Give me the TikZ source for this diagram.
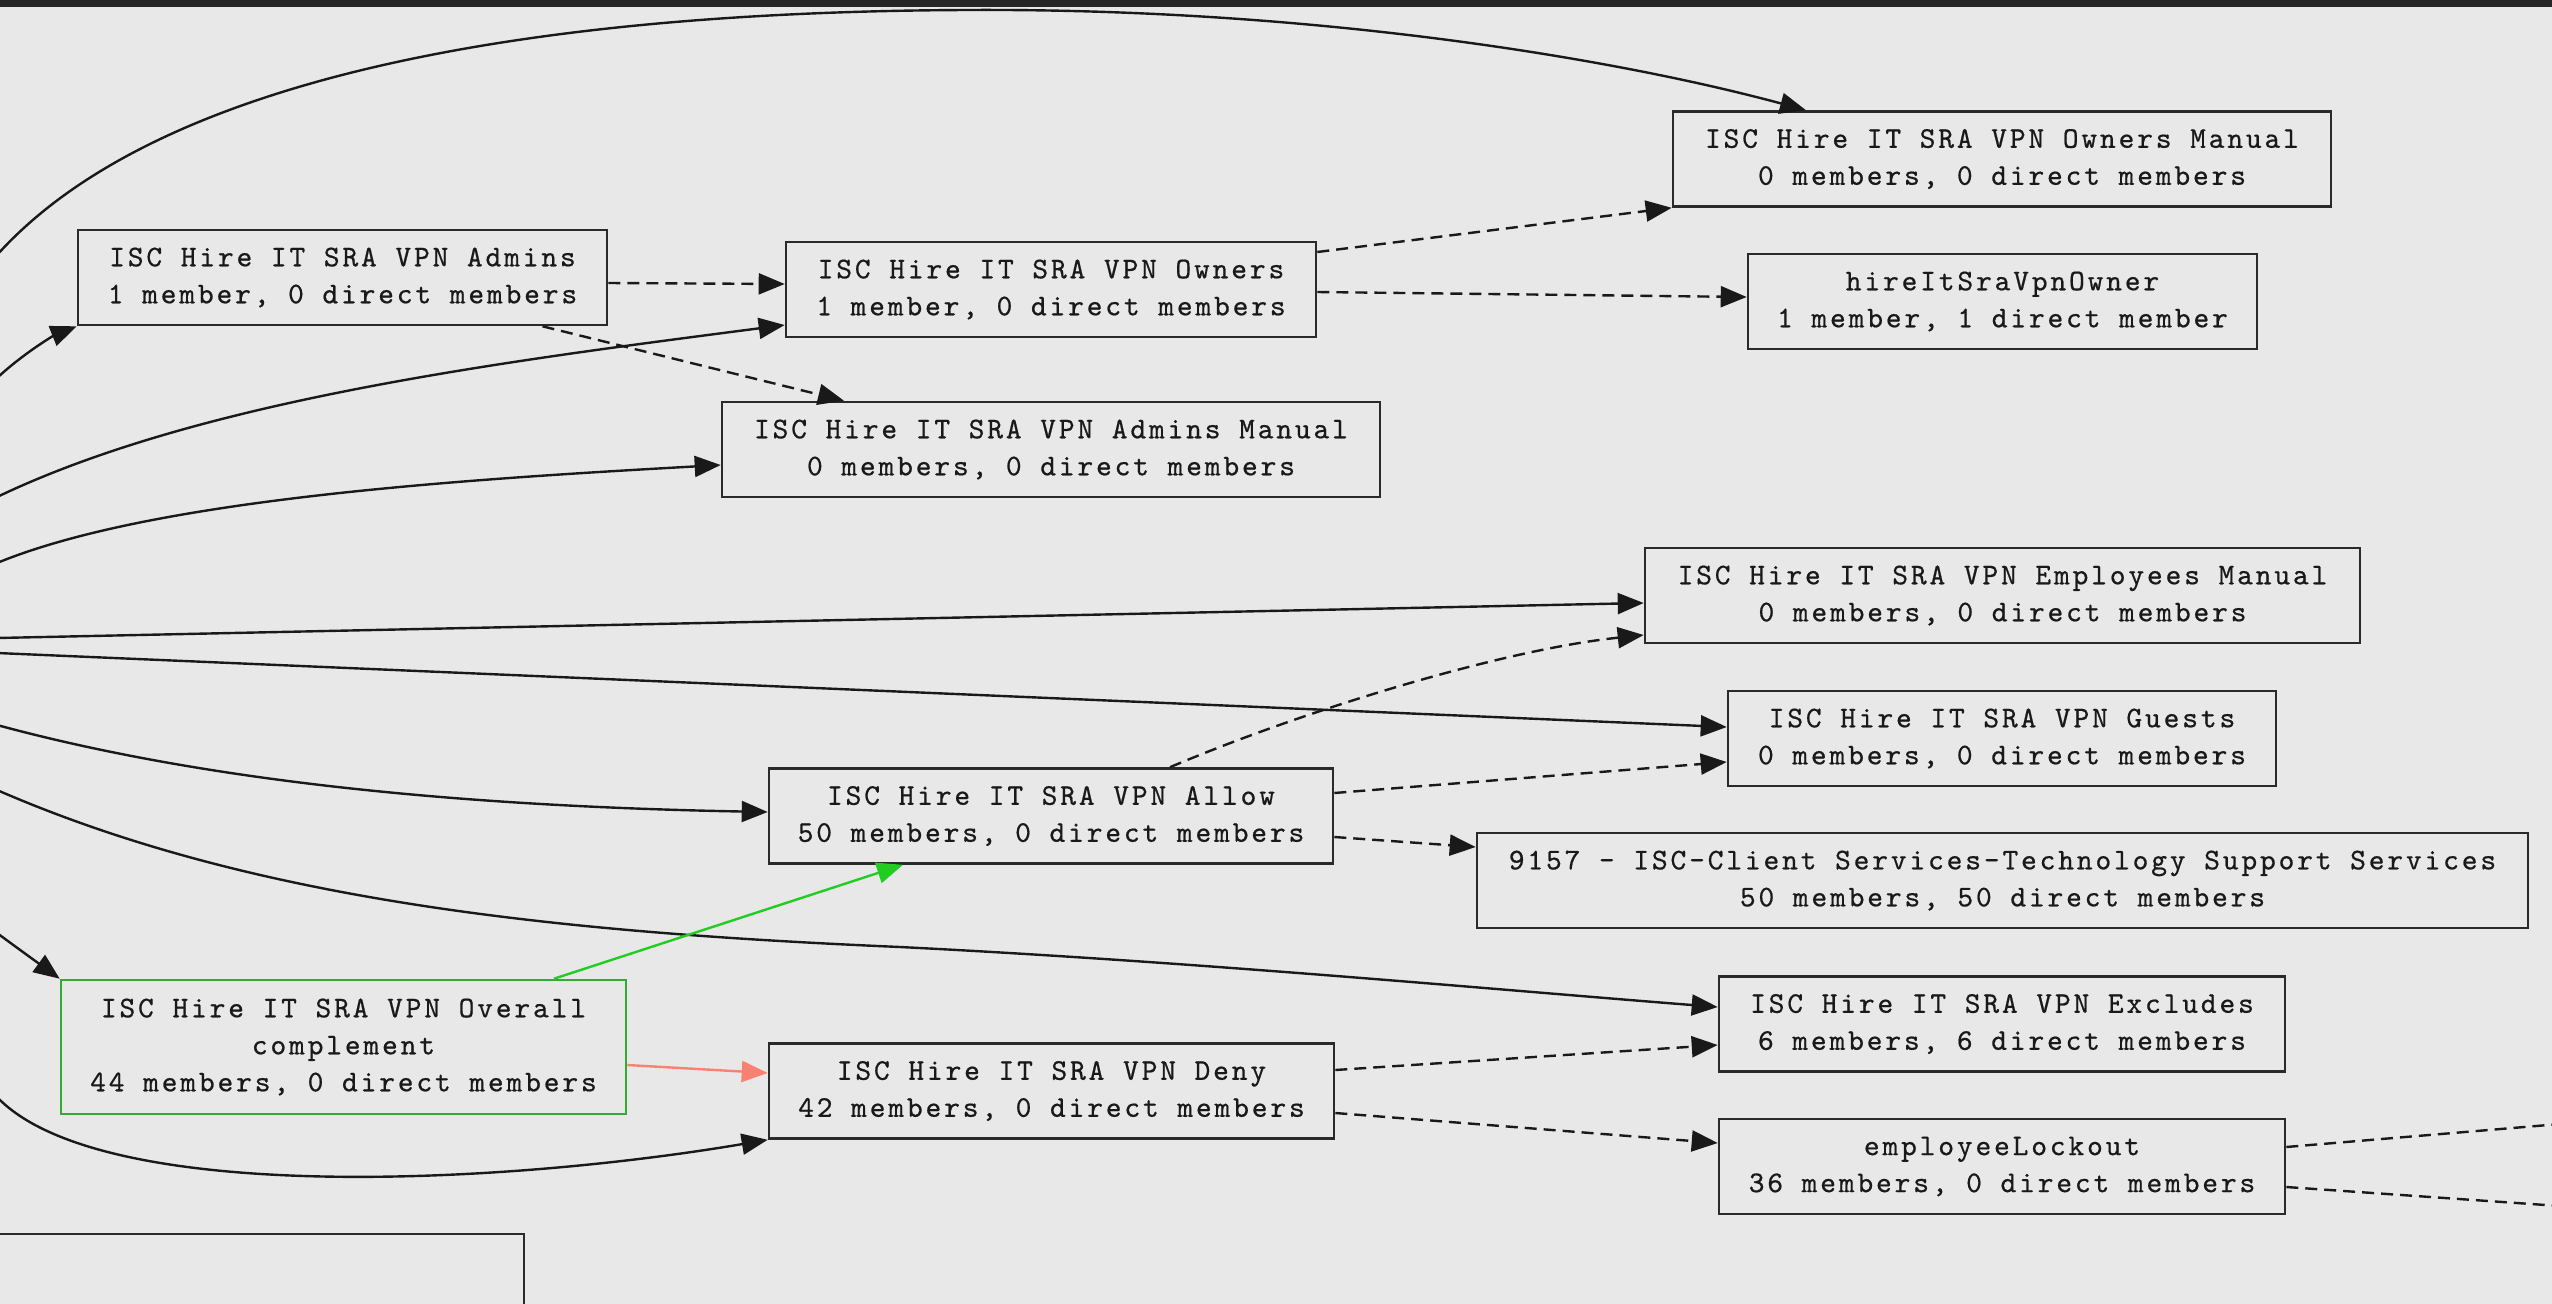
\documentclass[tikz,border=0pt]{standalone}
\usepackage{fontspec}
\newfontfamily\gvmono{lmmono10-regular.otf}[LetterSpace=9.5,FakeBold=0.6]
\usetikzlibrary{arrows.meta}
\definecolor{bgc}{HTML}{E8E8E8}
\definecolor{bandc}{HTML}{262626}
\definecolor{boxc}{HTML}{2A2A2A}
\definecolor{greenbox}{HTML}{33AA33}
\definecolor{greenedge}{HTML}{22CC22}
\definecolor{salmonedge}{HTML}{FA8072}
\tikzset{
  gbox/.style={rectangle, draw=boxc, line width=2.6pt, align=center, inner sep=0pt,
    minimum height=95pt, font=\gvmono\fontsize{30}{37}\selectfont, text=black!90},
  edgeline/.style={line width=2.4pt, draw=black!90, -{Triangle[length=26pt,width=21pt]}},
  dashedge/.style={edgeline, dash pattern=on 12pt off 7pt},
  plaindash/.style={line width=2.4pt, draw=black!90, dash pattern=on 12pt off 7pt},
}
\begin{document}
\begin{tikzpicture}[x=1pt,y=-1pt]
\fill[bgc] (0,0) rectangle (2552,1304);
\useasboundingbox (0,0) rectangle (2552,1304);
\fill[bandc] (0,0) rectangle (2552,7);

% nodes
\node[gbox, minimum width=658pt] (OM) at (2002,159) {ISC Hire IT SRA VPN Owners Manual\\0 members, 0 direct members};
\node[gbox, minimum width=509pt] (HO) at (2002.5,301.5) {hireItSraVpnOwner\\1 member, 1 direct member};
\node[gbox, minimum width=529pt] (AD) at (342.5,277.5) {ISC Hire IT SRA VPN Admins\\1 member, 0 direct members};
\node[gbox, minimum width=530pt] (OW) at (1051,289.5) {ISC Hire IT SRA VPN Owners\\1 member, 0 direct members};
\node[gbox, minimum width=658pt] (AM) at (1051,449.5) {ISC Hire IT SRA VPN Admins Manual\\0 members, 0 direct members};
\node[gbox, minimum width=715pt] (EM) at (2002.5,595.5) {ISC Hire IT SRA VPN Employees Manual\\0 members, 0 direct members};
\node[gbox, minimum width=548pt] (GU) at (2002,738.5) {ISC Hire IT SRA VPN Guests\\0 members, 0 direct members};
\node[gbox, minimum width=564pt] (AL) at (1051,816) {ISC Hire IT SRA VPN Allow\\50 members, 0 direct members};
\node[gbox, minimum width=1051pt] (CS) at (2002.5,880.5) {9157 - ISC-Client Services-Technology Support Services\\50 members, 50 direct members};
\node[gbox, draw=greenbox, minimum width=565pt, minimum height=134pt] (OC) at (343.5,1047) {ISC Hire IT SRA VPN Overall\\complement\\44 members, 0 direct members};
\node[gbox, minimum width=566pt] (EX) at (2002,1024) {ISC Hire IT SRA VPN Excludes\\6 members, 6 direct members};
\node[gbox, minimum width=565pt] (DE) at (1051.5,1091) {ISC Hire IT SRA VPN Deny\\42 members, 0 direct members};
\node[gbox, minimum width=566pt] (LO) at (2002,1166.5) {employeeLockout\\36 members, 0 direct members};
\node[rectangle, draw=boxc, line width=2.6pt, inner sep=0pt, minimum width=544pt, minimum height=100pt] (BL) at (252,1284) {};

% free ends
\coordinate (in1) at (-3,255);
\coordinate (in2) at (-3,378);
\coordinate (in3) at (-3,497);
\coordinate (in4) at (-3,563);
\coordinate (in5) at (-3,638);
\coordinate (in6) at (-3,653);
\coordinate (in7) at (-3,725);
\coordinate (in8) at (-3,790);
\coordinate (in9) at (-3,933);
\coordinate (in10) at (-3,1097);
\coordinate (out1) at (2560,1124);
\coordinate (out2) at (2560,1206);

% solid edges from the left
\draw[edgeline] (in1) .. controls (150,85) and (500,12) .. (966,10) .. controls (1320,8) and (1620,60) .. ([xshift=-196pt]OM.north);
\draw[edgeline] (in2) .. controls (25,352) and (55,335) .. (AD.south west);
\draw[edgeline] (in3) .. controls (200,400) and (500,362) .. ([yshift=-35.5pt]OW.west);
\draw[edgeline] (in4) .. controls (150,500) and (450,480) .. ([yshift=-15.5pt]AM.west);
\draw[edgeline] (in5) -- ([yshift=-7.5pt]EM.west);
\draw[edgeline] (in6) -- ([yshift=11.5pt]GU.west);
\draw[edgeline] (in7) .. controls (200,780) and (450,806) .. ([yshift=4pt]AL.west);
\draw[edgeline] (in8) .. controls (250,900) and (550,932) .. (900,947) .. controls (1200,962) and (1500,990) .. ([yshift=17pt]EX.west);
\draw[edgeline] (in9) .. controls (20,950) and (45,968) .. (OC.north west);
\draw[edgeline] (in10) .. controls (100,1205) and (500,1185) .. (DE.south west);

% dashed edges
\draw[dashedge] ([yshift=-5.5pt]AD.east) -- ([yshift=5.5pt]OW.west);
\draw[dashedge] ([xshift=200pt]AD.south) -- ([xshift=-207pt]AM.north);
\draw[dashedge] ([yshift=37.5pt]OW.east) -- (OM.south west);
\draw[dashedge] ([yshift=-2.5pt]OW.east) -- ([yshift=4.5pt]HO.west);
\draw[dashedge] ([xshift=119pt]AL.north) .. controls (1300,712) and (1500,650) .. ([yshift=-39.5pt]EM.west);
\draw[dashedge] ([yshift=23pt]AL.east) -- ([yshift=-23.5pt]GU.west);
\draw[dashedge] ([yshift=-21pt]AL.east) -- ([yshift=33.5pt]CS.west);
\draw[dashedge] ([yshift=21pt]DE.east) -- ([yshift=-21pt]EX.west);
\draw[dashedge] ([yshift=-22pt]DE.east) -- ([yshift=23.5pt]LO.west);
\draw[plaindash] ([yshift=19.5pt]LO.east) -- (out1);
\draw[plaindash] ([yshift=-20.5pt]LO.east) -- (out2);

% coloured edges
\draw[edgeline, draw=greenedge, fill=greenedge] ([xshift=210.5pt]OC.north) -- ([xshift=-148pt]AL.south);
\draw[edgeline, draw=salmonedge, fill=salmonedge] ([yshift=-18pt]OC.east) -- ([yshift=18pt]DE.west);
\end{tikzpicture}
\end{document}
